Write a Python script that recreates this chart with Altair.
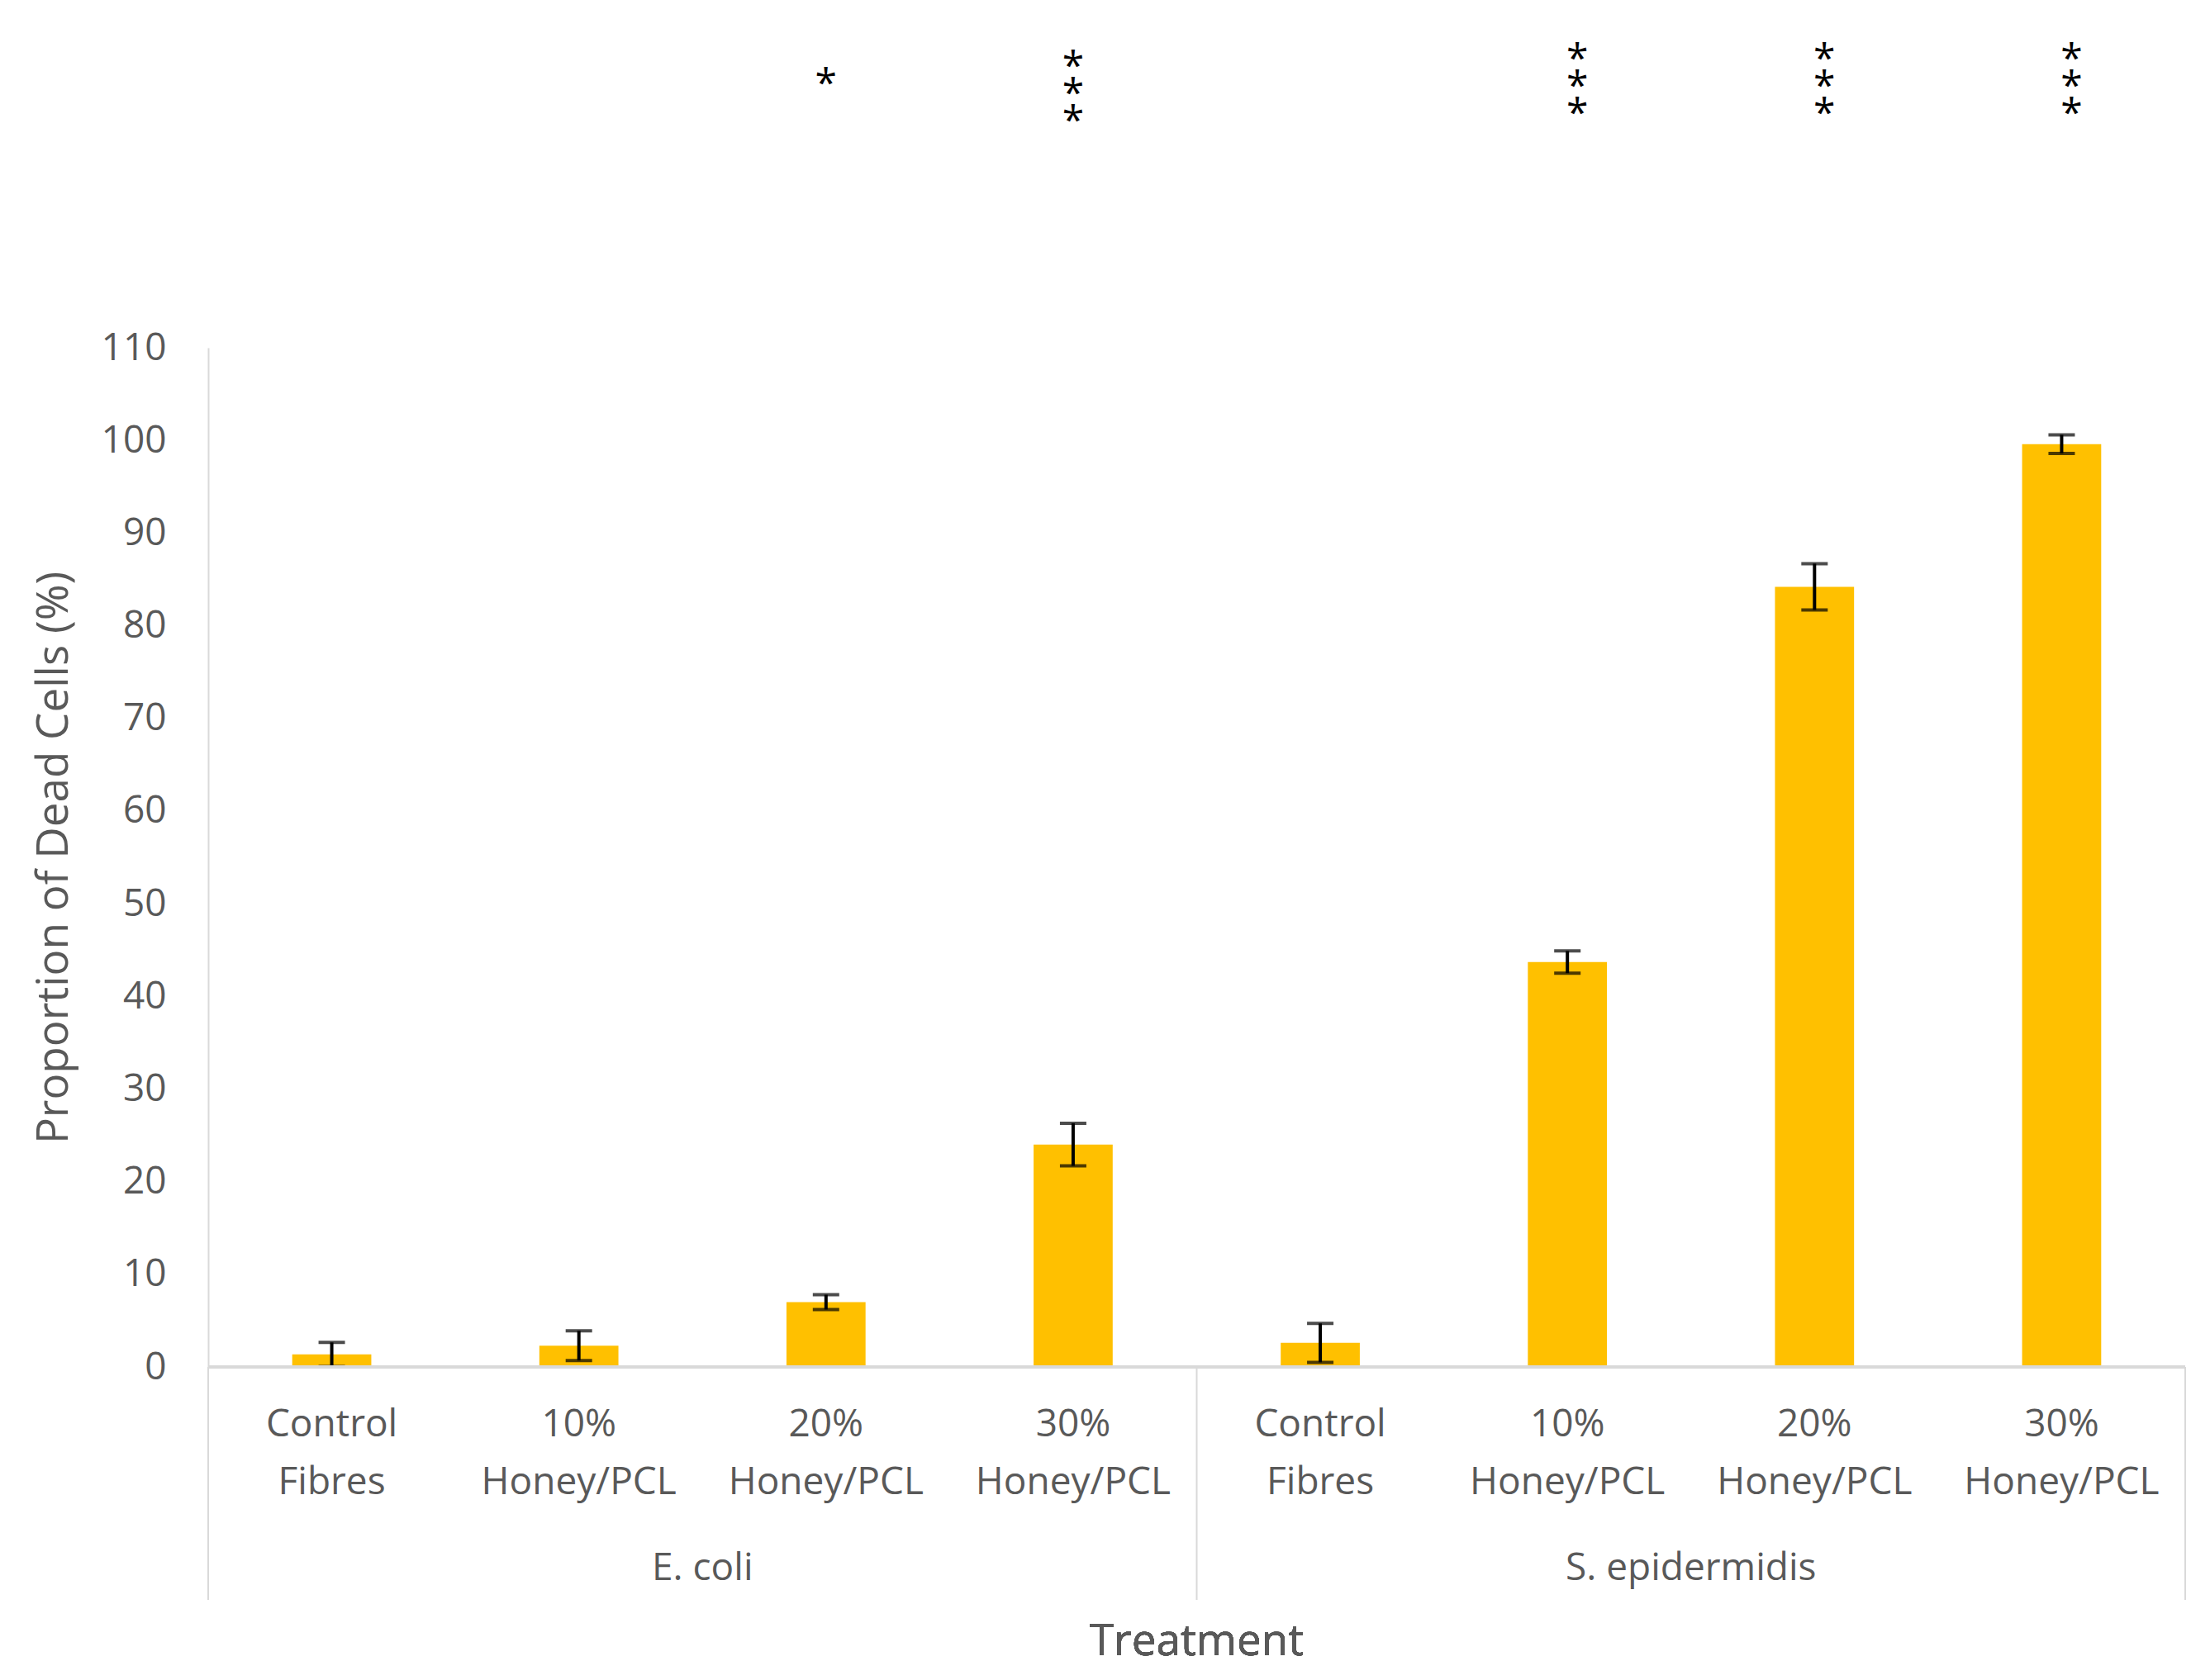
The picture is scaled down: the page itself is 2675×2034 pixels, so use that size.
import altair as alt
import pandas as pd

# ---- data ----
groups = ["E. coli"] * 4 + ["S. epidermidis"] * 4
line1 = ["Control", "10%", "20%", "30%", "Control", "10%", "20%", "30%"]
line2 = ["Fibres", "Honey/PCL", "Honey/PCL", "Honey/PCL",
         "Fibres", "Honey/PCL", "Honey/PCL", "Honey/PCL"]
values = [1.35, 2.3, 7.0, 24.0, 2.6, 43.7, 84.2, 99.6]
errors = [1.3, 1.6, 0.8, 2.3, 2.1, 1.2, 2.5, 1.0]
signif = ["", "", "*", "***", "", "***", "***", "***"]
group_names = ["E. coli", "S. epidermidis"]
y_ticks = [0, 10, 20, 30, 40, 50, 60, 70, 80, 90, 100, 110]

keys = [f"{g}|{a} {b}" for g, a, b in zip(groups, line1, line2)]
df = pd.DataFrame({
    "key": keys, "group": groups, "l1": line1, "l2": line2,
    "value": values, "err": errors,
    "sig": ["\n".join(list(s)) for s in signif],
    "nsig": [len(s) for s in signif],
})
df["lo"] = df["value"] - df["err"]
df["hi"] = df["value"] + df["err"]

# group boundaries (start key of each group, end key of last group)
bounds = pd.DataFrame({
    "key": [keys[0], keys[4], keys[7]],
    "bp": [0, 0, 1],
})
# group label anchors: boundary between 2nd and 3rd category of each group
glabels = pd.DataFrame({"key": [keys[1], keys[5]], "name": group_names})

W, H = 2393, 1234
GREY = "#595959"
LINE = "#D9D9D9"
FONT = "Open Sans"

xscale = alt.Scale(domain=keys, paddingInner=0, paddingOuter=0)
X = alt.X("key:N", scale=xscale, axis=None)
yscale = alt.Scale(domain=[0, 110], nice=False)

base = alt.Chart(df)

bars = base.mark_bar(color="#FFC000", width=alt.RelativeBandSize(0.32)).encode(
    x=X,
    y=alt.Y("value:Q", scale=yscale,
            axis=alt.Axis(values=y_ticks, grid=False, ticks=False, tickSize=0,
                          domainColor=LINE, domainWidth=2,
                          labelColor=GREY, labelFontSize=46, labelFont=FONT,
                          labelPadding=51,
                          title="Proportion of Dead Cells (%)",
                          titleFont=FONT, titleFontSize=53, titleColor=GREY,
                          titleFontWeight="normal", titleAngle=-90,
                          titleX=-187, titleY=H / 2, titleAlign="center",
                          titleBaseline="middle")),
)

err_rule = base.mark_rule(color="black", strokeWidth=4, clip=True).encode(
    x=X, y=alt.Y("lo:Q", scale=yscale), y2="hi:Q")
cap_hi = base.mark_tick(color="black", size=32, thickness=4, clip=True,
                        orient="horizontal").encode(x=X, y=alt.Y("hi:Q", scale=yscale))
cap_lo = base.mark_tick(color="black", size=32, thickness=4, clip=True,
                        orient="horizontal").encode(x=X, y=alt.Y("lo:Q", scale=yscale))

baseline = base.mark_rule(color=LINE, strokeWidth=3).encode(
    y=alt.datum(0, scale=yscale), x=alt.value(0), x2=alt.value(W))

seps_end = alt.Chart(bounds[bounds.bp == 1]).mark_rule(color=LINE, strokeWidth=2).encode(
    x=alt.X("key:N", scale=xscale, axis=None, bandPosition=1),
    y=alt.value(H), y2=alt.value(H + 282))
seps = alt.Chart(bounds[bounds.bp == 0]).mark_rule(color=LINE, strokeWidth=2).encode(
    x=alt.X("key:N", scale=xscale, axis=None, bandPosition=0),
    y=alt.value(H), y2=alt.value(H + 282))

lab1 = base.mark_text(font=FONT, fontSize=46, color=GREY, baseline="middle").encode(
    x=X, y=alt.value(H + 70), text="l1:N")
lab2 = base.mark_text(font=FONT, fontSize=46, color=GREY, baseline="middle").encode(
    x=X, y=alt.value(H + 140), text="l2:N")
glab = alt.Chart(glabels).mark_text(font=FONT, fontSize=46, color=GREY,
                                    baseline="middle").encode(
    x=alt.X("key:N", scale=xscale, axis=None, bandPosition=1),
    y=alt.value(H + 244), text="name:N")
xtitle = base.mark_text(font=FONT, fontSize=53, color=GREY, baseline="middle",
                        text="Treatment").encode(
    x=alt.value(W / 2), y=alt.value(H + 333))

star_style = dict(font=FONT, fontSize=48, color="black", baseline="middle",
                  lineBreak="\n", lineHeight=33)
star1 = base.transform_filter("datum.nsig == 1").mark_text(**star_style).encode(
    x=X, y=alt.value(-318), text="sig:N")
star3a = base.transform_filter(
    "datum.nsig == 3 && datum.group == 'E. coli'").mark_text(**star_style).encode(
    x=X, y=alt.value(-339), text="sig:N")
star3b = base.transform_filter(
    "datum.nsig == 3 && datum.group != 'E. coli'").mark_text(dx=12, **star_style).encode(
    x=X, y=alt.value(-348), text="sig:N")

chart = alt.layer(
    bars, err_rule, cap_hi, cap_lo, baseline, seps, seps_end,
    lab1, lab2, glab, xtitle, star1, star3a, star3b,
).properties(
    width=W, height=H,
    autosize=alt.AutoSizeParams(type="none"),
    padding={"left": 244, "top": 413, "right": 22, "bottom": 371},
    background="white",
).configure(font=FONT, view=alt.ViewConfig(stroke=None))

chart.save("out.html", embed_options={"renderer": "svg", "actions": False})
